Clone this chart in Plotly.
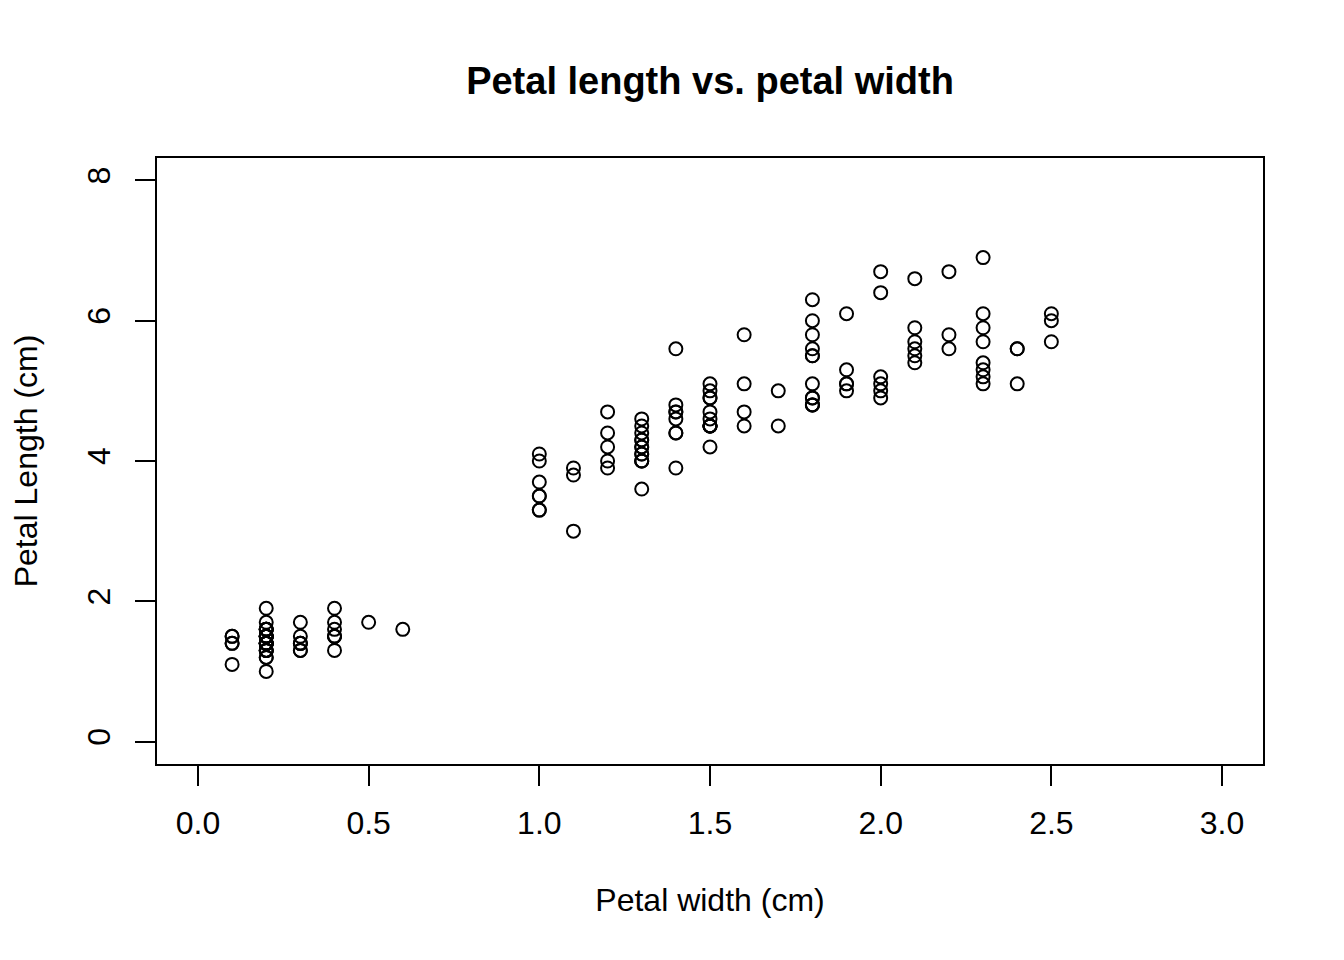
import plotly.graph_objects as go

# iris petal measurements (cm)
petal_width = [
    0.2, 0.2, 0.2, 0.2, 0.2, 0.4, 0.3, 0.2, 0.2, 0.1,
    0.2, 0.2, 0.1, 0.1, 0.2, 0.4, 0.4, 0.3, 0.3, 0.3,
    0.2, 0.4, 0.2, 0.5, 0.2, 0.2, 0.4, 0.2, 0.2, 0.2,
    0.2, 0.4, 0.1, 0.2, 0.2, 0.2, 0.2, 0.1, 0.2, 0.2,
    0.3, 0.3, 0.2, 0.6, 0.4, 0.3, 0.2, 0.2, 0.2, 0.2,
    1.4, 1.5, 1.5, 1.3, 1.5, 1.3, 1.6, 1.0, 1.3, 1.4,
    1.0, 1.5, 1.0, 1.4, 1.3, 1.4, 1.5, 1.0, 1.5, 1.1,
    1.8, 1.3, 1.5, 1.2, 1.3, 1.4, 1.4, 1.7, 1.5, 1.0,
    1.1, 1.0, 1.2, 1.6, 1.5, 1.6, 1.5, 1.3, 1.3, 1.3,
    1.2, 1.4, 1.2, 1.0, 1.3, 1.2, 1.3, 1.3, 1.1, 1.3,
    2.5, 1.9, 2.1, 1.8, 2.2, 2.1, 1.7, 1.8, 1.8, 2.5,
    2.0, 1.9, 2.1, 2.0, 2.4, 2.3, 1.8, 2.2, 2.3, 1.5,
    2.3, 2.0, 2.0, 1.8, 2.1, 1.8, 1.8, 1.8, 2.1, 1.6,
    1.9, 2.0, 2.2, 1.5, 1.4, 2.3, 2.4, 1.8, 1.8, 2.1,
    2.4, 2.3, 1.9, 2.3, 2.5, 2.3, 1.9, 2.0, 2.3, 1.8,
]
petal_length = [
    1.4, 1.4, 1.3, 1.5, 1.4, 1.7, 1.4, 1.5, 1.4, 1.5,
    1.5, 1.6, 1.4, 1.1, 1.2, 1.5, 1.3, 1.4, 1.7, 1.5,
    1.7, 1.5, 1.0, 1.7, 1.9, 1.6, 1.6, 1.5, 1.4, 1.6,
    1.6, 1.5, 1.5, 1.4, 1.5, 1.2, 1.3, 1.4, 1.3, 1.5,
    1.3, 1.3, 1.3, 1.6, 1.9, 1.4, 1.6, 1.4, 1.5, 1.4,
    4.7, 4.5, 4.9, 4.0, 4.6, 4.5, 4.7, 3.3, 4.6, 3.9,
    3.5, 4.2, 4.0, 4.7, 3.6, 4.4, 4.5, 4.1, 4.5, 3.9,
    4.8, 4.0, 4.9, 4.7, 4.3, 4.4, 4.8, 5.0, 4.5, 3.5,
    3.8, 3.7, 3.9, 5.1, 4.5, 4.5, 4.7, 4.4, 4.1, 4.0,
    4.4, 4.6, 4.0, 3.3, 4.2, 4.2, 4.2, 4.3, 3.0, 4.1,
    6.0, 5.1, 5.9, 5.6, 5.8, 6.6, 4.5, 6.3, 5.8, 6.1,
    5.1, 5.3, 5.5, 5.0, 5.1, 5.3, 5.5, 6.7, 6.9, 5.0,
    5.7, 4.9, 6.7, 4.9, 5.7, 6.0, 4.8, 4.9, 5.6, 5.8,
    6.1, 6.4, 5.6, 5.1, 5.6, 6.1, 5.6, 5.5, 4.8, 5.4,
    5.6, 5.1, 5.1, 5.9, 5.7, 5.2, 5.0, 5.2, 5.4, 5.1,
]
x_ticks = [0.0, 0.5, 1.0, 1.5, 2.0, 2.5, 3.0]
y_ticks = [0, 2, 4, 6, 8]

FONT = "Liberation Sans, Arial, sans-serif"

fig = go.Figure()
fig.add_trace(go.Scatter(
    x=petal_width, y=petal_length, mode="markers",
    marker=dict(symbol="circle-open", size=13, color="black",
                line=dict(color="black", width=2)),
    hoverinfo="x+y", showlegend=False,
))

axis_common = dict(
    showgrid=False, zeroline=False, showline=True, mirror=True,
    linecolor="black", linewidth=2, ticks="outside", ticklen=20,
    tickwidth=2, tickcolor="black", automargin=False,
    tickfont=dict(family=FONT, size=32, color="black"),
)

# page body adds an 8px offset, so margins are shifted to compensate
fig.update_layout(
    width=1344, height=960,
    margin=dict(l=149, r=89, t=150, b=204),
    paper_bgcolor="white", plot_bgcolor="white",
    font=dict(family=FONT, size=32, color="black"),
    title=dict(text="<b>Petal length vs. petal width</b>", x=702 / 1344, xanchor="center",
               y=1 - 73 / 960, yanchor="middle",
               font=dict(family=FONT, size=38, color="black")),
    xaxis=dict(range=[-0.12, 3.12], tickvals=x_ticks,
               ticktext=[f"{v:.1f}" for v in x_ticks], ticklabelstandoff=10,
               title=dict(text="Petal width (cm)", standoff=48,
                          font=dict(family=FONT, size=32, color="black")),
               **axis_common),
    yaxis=dict(range=[-0.32, 8.32], tickvals=y_ticks, tickangle=-90,
               ticklabelstandoff=12,
               title=dict(text="Petal Length (cm)", standoff=36,
                          font=dict(family=FONT, size=32, color="black")),
               **axis_common),
)

fig.write_html("out.html")
